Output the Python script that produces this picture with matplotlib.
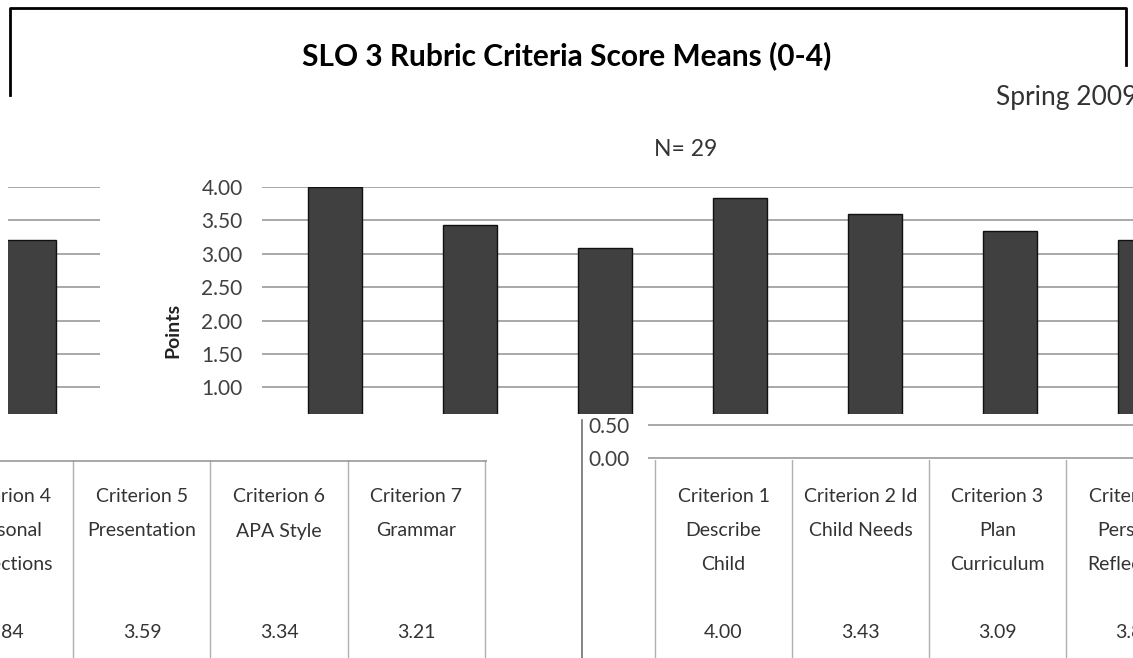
import matplotlib
matplotlib.use("Agg")
import matplotlib.pyplot as plt
from matplotlib.lines import Line2D
import numpy as np

plt.rcParams["font.family"] = ["Lato", "DejaVu Sans"]

W, H = 1133, 658
BAR = "#404040"
GRID = "#9a9a9a"
INK = "#333333"

criteria = ["Criterion 1\nDescribe\nChild", "Criterion 2 Id\nChild Needs",
            "Criterion 3\nPlan\nCurriculum", "Criterion 4\nPersonal\nReflections",
            "Criterion 5\nPresentation", "Criterion 6\nAPA Style", "Criterion 7\nGrammar"]
means = [4.00, 3.43, 3.09, 3.84, 3.59, 3.34, 3.21]
yticks = [1.0, 1.5, 2.0, 2.5, 3.0, 3.5, 4.0]
low_ticks = [0.0, 0.5]

xpos = np.arange(len(means))

fig = plt.figure(figsize=(W / 100, H / 100), dpi=100)


def px_axes(x0, y0, x1, y1, **kw):
    return fig.add_axes([x0 / W, 1 - y1 / H, (x1 - x0) / W, (y1 - y0) / H], **kw)


def bare(ax):
    for sp in ax.spines.values():
        sp.set_visible(False)
    ax.tick_params(length=0)


# main plot area
ax = px_axes(262, 187, 1133, 414)
ax.bar(xpos, means, width=0.4, color=BAR, edgecolor="#111111", lw=1, zorder=3)
ax.set_xlim(-0.54, 5.91)
ax.set_ylim(0.6, 4.0)
ax.set_yticks(yticks)
ax.set_yticklabels([f"{v:.2f}" for v in yticks], fontsize=15, color="#404040")
ax.set_xticks([])
ax.grid(axis="y", color=GRID, lw=1.2, zorder=0)
ax.tick_params(axis="y", pad=14)
bare(ax)
fig.text(173 / W, 1 - 330 / H, "Points", rotation=90, fontsize=14,
         fontweight="bold", ha="center", va="center", color="#222222")

# wrapped piece of the last bar at the left edge
axl = px_axes(8, 187, 100, 414)
axl.bar(xpos, means, width=0.4, color=BAR, edgecolor="#111111", lw=1, zorder=3)
axl.set_xlim(5.844, 6.526)
axl.set_ylim(0.6, 4.0)
axl.set_yticks(yticks)
axl.set_yticklabels([])
axl.set_xticks([])
axl.grid(axis="y", color=GRID, lw=1.2, zorder=0)
bare(axl)


# data table pieces
def table(ax, xlim, cols, top_line):
    ax.set_xlim(*xlim)
    ax.set_ylim(198, 0)
    ax.set_xticks([])
    ax.set_yticks([])
    ax.patch.set_visible(False)
    bare(ax)
    for b in np.arange(-0.5, len(means) + 0.5):
        ax.axvline(b, color="#b0b0b0", lw=1)
    if top_line:
        ax.axhline(1, color=GRID, lw=1.2)
    for i in cols:
        for k, line in enumerate(criteria[i].split("\n")):
            ax.text(xpos[i], 37 + 34 * k, line, ha="center", va="center",
                    fontsize=14, color=INK, clip_on=True)
        ax.text(xpos[i], 172, f"{means[i]:.2f}", ha="center", va="center",
                fontsize=14, color=INK, clip_on=True)


table(px_axes(0, 460, 487, 658), (2.964, 6.518), [3, 4, 5, 6], True)
table(px_axes(582, 460, 1133, 658), (-1.033, 2.989), [0, 1, 2, 3], False)
fig.add_artist(Line2D([582 / W, 582 / W], [1 - 420 / H, 0], color="#707070", lw=1.2))

# low strip of the value axis (0.00 / 0.50)
axb = px_axes(648, 414, 1133, 460)
axb.set_ylim(-0.03, 0.66)
axb.set_xlim(0, 1)
axb.set_yticks(low_ticks)
axb.set_yticklabels([f"{v:.2f}" for v in low_ticks], fontsize=15, color="#404040")
axb.set_xticks([])
axb.grid(axis="y", color=GRID, lw=1.2)
axb.tick_params(axis="y", pad=13)
axb.patch.set_visible(False)
bare(axb)

# chart frame (partial)
fr = dict(color="black", lw=2)
fig.add_artist(Line2D([10 / W, 10 / W, 1126 / W, 1126 / W],
                      [1 - 95 / H, 1 - 8 / H, 1 - 8 / H, 1 - 65 / H], **fr))

fig.text(567 / W, 1 - 56 / H, "SLO 3 Rubric Criteria Score Means (0-4)",
         fontsize=21.5, fontweight="bold", ha="center", va="center", color="black")
fig.text(996 / W, 1 - 98 / H, "Spring 2009", fontsize=19, ha="left", va="center",
         color="#333333")
fig.text(686 / W, 1 - 149 / H, "N= 29", fontsize=16.5, ha="center", va="center",
         color="#333333")

fig.savefig("out.png", dpi=100)
